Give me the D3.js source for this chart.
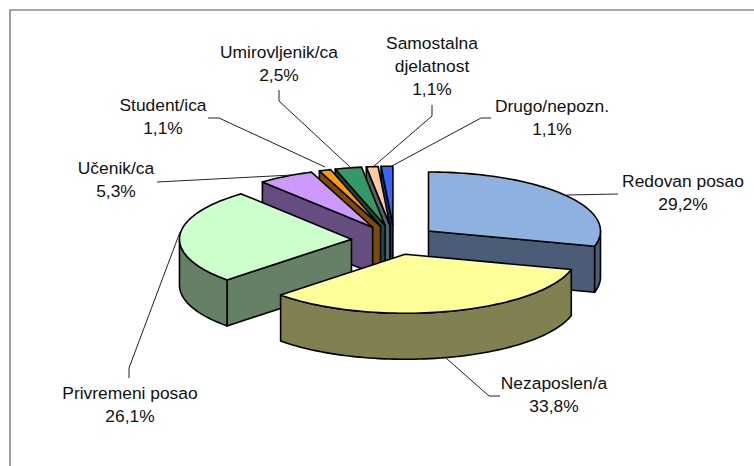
<!DOCTYPE html>
<html><head><meta charset="utf-8">
<script src="https://cdn.jsdelivr.net/npm/d3@7/dist/d3.min.js"></script>
<style>html,body{margin:0;padding:0;background:#fff}svg{display:block}
text{font-family:"Liberation Sans",Arial,sans-serif;font-size:17.4px;fill:#111}</style></head>
<body><svg id="c" width="754" height="466"></svg>
<script>
const categories = ["Redovan posao","Nezaposlen/a","Privremeni posao","Učenik/ca","Student/ica","Umirovljenik/ca","Samostalna djelatnost","Drugo/nepozn."];
const values = [29.2,33.8,26.1,5.3,1.1,2.5,1.1,1.1];
const topColors = ["#8EB2E0","#FFFF99","#CCFFCC","#CC99FF","#FF9900","#339966","#FFCC99","#3366FF"];
const sideColors = ["#4A5C76","#808050","#668066","#664D80","#804D00","#1A4D33","#55606E","#1A3380"];
const labelLines = [["Redovan posao"],["Nezaposlen/a"],["Privremeni posao"],["Učenik/ca"],["Student/ica"],["Umirovljenik/ca"],["Samostalna","djelatnost"],["Drugo/nepozn."]];
const labelAnchors = [[683,187],[554,389],[130,399],[116,174],[163,111],[279,58],[432,49],[552,112]];
const leaderPaths = [[[567,195],[618,194]],[[446,358],[489,396],[500,396]],[[180,232],[129,368],[129,378]],[[157,182],[292,175]],[[325,167],[219,118],[208,118]],[[350,167],[279,101],[279,90]],[[374,166],[432,116],[432,105]],[[390,167],[481,118],[491,118]]];
const drawOrder = [7,6,5,4,3,2,0,1];

const CX=394.4, CY=240, RX=172, RY=59, DEPTH=46, EXPLODE=0.25;
const svg=d3.select("#c");
svg.append("path").attr("d","M10,466V10H754").attr("fill","none").attr("stroke","#8a8a8a").attr("stroke-width",1.6);

const arcs=d3.pie().sort(null).value(d=>d)(values);
const lineGen=d3.line();
const px=(a,r=1)=>r*RX*Math.sin(a), py=(a,r=1)=>-r*RY*Math.cos(a);
const arcPts=(a0,a1,ox,oy,dy=0)=>{const n=Math.max(2,Math.ceil((a1-a0)/0.03));return d3.range(n+1).map(i=>{const a=a0+(a1-a0)*i/n;return [ox+px(a),oy+py(a)+dy];});};
const PI=Math.PI;
const stroke={stroke:"#000","stroke-width":1.6,"stroke-linejoin":"round"};
function poly(pts,fill){const p=svg.append("path").attr("d",lineGen(pts)+"Z").attr("fill",fill);Object.entries(stroke).forEach(([k,v])=>p.attr(k,v));}

drawOrder.forEach(i=>{
  const s=arcs[i], mid=(s.startAngle+s.endAngle)/2;
  const ox=CX+px(mid,EXPLODE), oy=CY+py(mid,EXPLODE);
  const side=sideColors[i];
  const A=[ox,oy], A2=[ox,oy+DEPTH];
  const st=[ox+px(s.startAngle),oy+py(s.startAngle)], en=[ox+px(s.endAngle),oy+py(s.endAngle)];
  if(s.startAngle>PI) poly([A,st,[st[0],st[1]+DEPTH],A2],side);
  if(s.endAngle<PI) poly([A,en,[en[0],en[1]+DEPTH],A2],side);
  const a0=Math.max(s.startAngle,PI/2), a1=Math.min(s.endAngle,3*PI/2);
  if(a1>a0){
    poly(arcPts(a0,a1,ox,oy).concat(arcPts(a0,a1,ox,oy,DEPTH).reverse()),side);
  }
  poly([A].concat(arcPts(s.startAngle,s.endAngle,ox,oy)),topColors[i]);
});

leaderPaths.forEach(p=>svg.append("path").attr("d",lineGen(p)).attr("fill","none").attr("stroke","#222").attr("stroke-width",1));

const fmt=v=>v.toFixed(1).replace(".",",")+"%";
categories.forEach((c,i)=>{
  const lines=labelLines[i].concat(fmt(values[i]));
  const t=svg.append("text").attr("text-anchor","middle");
  lines.forEach((l,j)=>t.append("tspan").attr("x",labelAnchors[i][0]).attr("y",labelAnchors[i][1]+j*23).text(l));
});
</script></body></html>
